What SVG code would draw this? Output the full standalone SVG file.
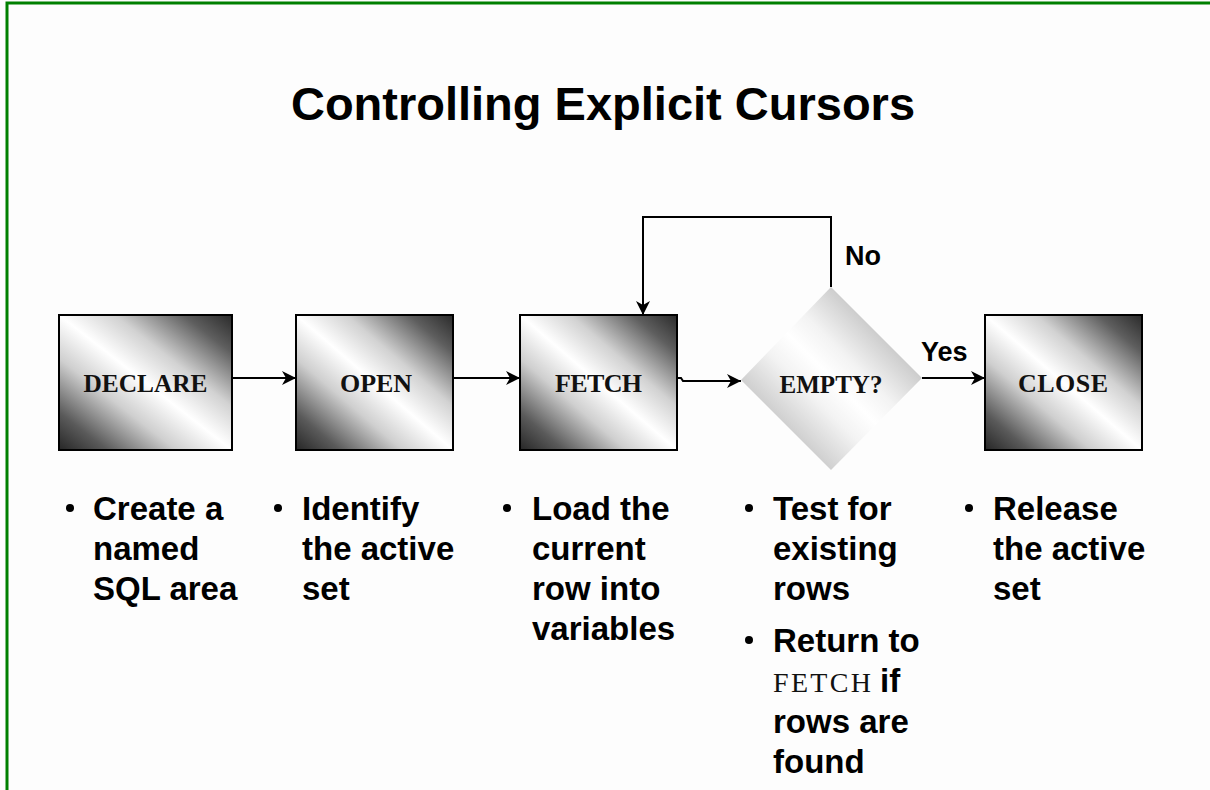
<svg xmlns="http://www.w3.org/2000/svg" width="1210" height="790" viewBox="0 0 1210 790">
  <defs>
    <linearGradient id="boxShade" x1="0" y1="1" x2="1" y2="0">
      <stop offset="0" stop-color="#262626"/>
      <stop offset="0.14" stop-color="#5a5a5a"/>
      <stop offset="0.34" stop-color="#cfcfcf"/>
      <stop offset="0.5" stop-color="#ffffff"/>
      <stop offset="0.66" stop-color="#d2d2d2"/>
      <stop offset="0.86" stop-color="#5e5e5e"/>
      <stop offset="1" stop-color="#2a2a2a"/>
    </linearGradient>
    <linearGradient id="diamondShade" x1="0" y1="1" x2="1" y2="0">
      <stop offset="0.25" stop-color="#d0d0d0"/>
      <stop offset="0.4" stop-color="#f3f3f3"/>
      <stop offset="0.5" stop-color="#ffffff"/>
      <stop offset="0.6" stop-color="#f3f3f3"/>
      <stop offset="0.75" stop-color="#cdcdcd"/>
    </linearGradient>
    <marker id="arrow" markerUnits="userSpaceOnUse" markerWidth="16" markerHeight="14" refX="14" refY="7" orient="auto">
      <path d="M0,0 L14,7 L0,14 L4,7 z" fill="#000"/>
    </marker>
  </defs>
  <style>
    .box { fill: url(#boxShade); stroke: #000; stroke-width: 2; }
    .diamond { fill: url(#diamondShade); stroke: none; }
    .code { font-family: "Liberation Serif", "Times New Roman", serif; font-weight: bold; font-size: 26px; fill: #111; text-anchor: middle; }
    .title { font-family: "Liberation Sans", Arial, sans-serif; font-weight: bold; font-size: 47px; fill: #000; text-anchor: middle; }
    .label { font-family: "Liberation Sans", Arial, sans-serif; font-weight: bold; font-size: 27px; fill: #000; }
    .bullet { font-family: "Liberation Sans", Arial, sans-serif; font-weight: bold; font-size: 33px; fill: #000; }
    .mono { font-family: "Liberation Serif", "Times New Roman", serif; font-weight: normal; font-size: 28px; fill: #111; }
    .link { fill: none; stroke: #000; stroke-width: 2; }
  </style>

  <rect width="1210" height="790" fill="#fdfdfd"/>
  <!-- page frame -->
  <path d="M7,790 V3 H1210" fill="none" stroke="#008000" stroke-width="3"/>

  <text class="title" x="603" y="120">Controlling Explicit Cursors</text>

  <g id="connectors">
    <path class="link" d="M232,378 H296" marker-end="url(#arrow)"/>
    <path class="link" d="M453,378 H520" marker-end="url(#arrow)"/>
    <path class="link" d="M677,378 H681 L683,381 H741" marker-end="url(#arrow)"/>
    <path class="link" d="M831,287 V217 H643 V315" marker-end="url(#arrow)"/>
    <path class="link" d="M922,378 H985" marker-end="url(#arrow)"/>
    <text class="label" x="845" y="265">No</text>
    <text class="label" x="921" y="361">Yes</text>
  </g>

  <g id="declare">
    <rect class="box" x="59" y="315" width="173" height="135"/>
    <text class="code" x="145.5" y="392" textLength="124" lengthAdjust="spacingAndGlyphs">DECLARE</text>
  </g>
  <g id="open">
    <rect class="box" x="296" y="315" width="157" height="135"/>
    <text class="code" x="376" y="392" textLength="72" lengthAdjust="spacing">OPEN</text>
  </g>
  <g id="fetch">
    <rect class="box" x="520" y="315" width="157" height="135"/>
    <text class="code" x="598.5" y="392" textLength="87" lengthAdjust="spacing">FETCH</text>
  </g>
  <g id="empty">
    <polygon class="diamond" points="831,287 922,378 831,470 741,380"/>
    <text class="code" x="831" y="393" textLength="103" lengthAdjust="spacingAndGlyphs">EMPTY?</text>
  </g>
  <g id="close">
    <rect class="box" x="985" y="315" width="157" height="135"/>
    <text class="code" x="1063" y="392" textLength="90" lengthAdjust="spacing">CLOSE</text>
  </g>

  <!-- step descriptions -->
  <g id="notes">
    <circle cx="70" cy="508" r="4"/>
    <text class="bullet" x="93" y="520">Create a</text>
    <text class="bullet" x="93" y="560">named</text>
    <text class="bullet" x="93" y="600">SQL area</text>

    <circle cx="278" cy="508" r="4"/>
    <text class="bullet" x="302" y="520">Identify</text>
    <text class="bullet" x="302" y="560">the active</text>
    <text class="bullet" x="302" y="600">set</text>

    <circle cx="507" cy="508" r="4"/>
    <text class="bullet" x="532" y="520">Load the</text>
    <text class="bullet" x="532" y="560">current</text>
    <text class="bullet" x="532" y="600">row into</text>
    <text class="bullet" x="532" y="640">variables</text>

    <circle cx="749" cy="508" r="4"/>
    <text class="bullet" x="773" y="520">Test for</text>
    <text class="bullet" x="773" y="560">existing</text>
    <text class="bullet" x="773" y="600">rows</text>
    <circle cx="749" cy="640" r="4"/>
    <text class="bullet" x="773" y="652">Return to</text>
    <text class="mono" x="773" y="692" textLength="98" lengthAdjust="spacing">FETCH</text>
    <text class="bullet" x="880" y="692">if</text>
    <text class="bullet" x="773" y="733">rows are</text>
    <text class="bullet" x="773" y="773">found</text>

    <circle cx="969" cy="508" r="4"/>
    <text class="bullet" x="993" y="520">Release</text>
    <text class="bullet" x="993" y="560">the active</text>
    <text class="bullet" x="993" y="600">set</text>
  </g>
</svg>
